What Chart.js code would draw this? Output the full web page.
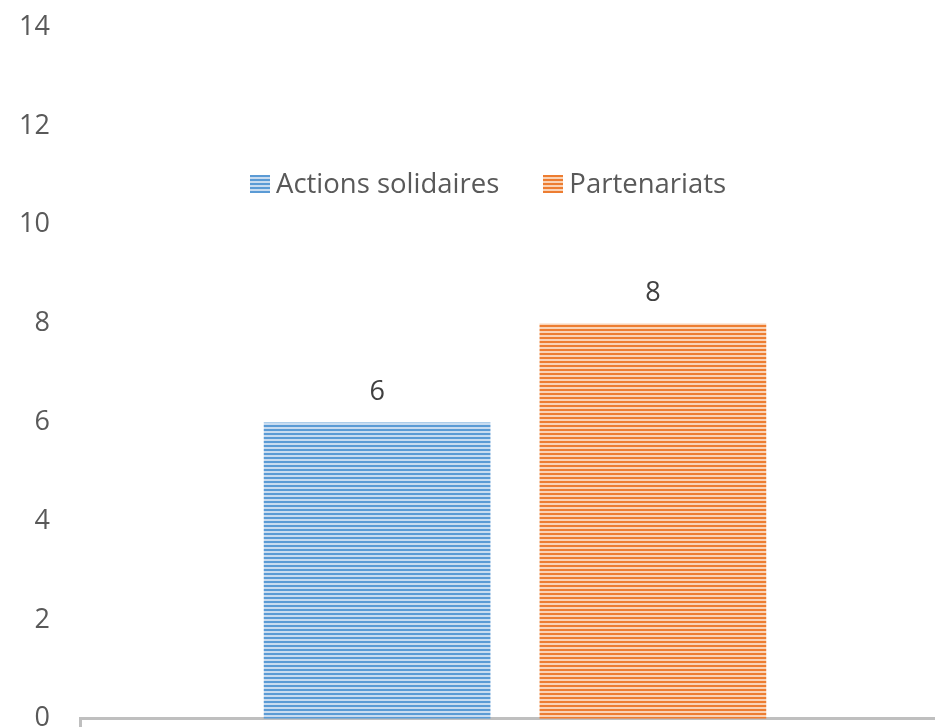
<!DOCTYPE html>
<html>
<head>
<meta charset="utf-8">
<script src="https://cdn.jsdelivr.net/npm/chart.js@4.4.1/dist/chart.umd.min.js"></script>
<style>
body { margin: 0; background: #fff; overflow: hidden; }
#wrap { position: relative; width: 935px; height: 727px; overflow: hidden; }
#box { position: absolute; left: 0; top: -11px; width: 950px; height: 768px; }
#legend { position: absolute; top: 164px; left: 250px; font-family: "Open Sans", sans-serif; font-size: 27.5px; color: #595959; white-space: nowrap; }
#legend span.item { margin-right: 44px; }
#legend i { display: inline-block; width: 20px; height: 18px; margin-right: 6px; vertical-align: 0px; }
</style>
</head>
<body>
<div id="wrap">
  <div id="box"><canvas id="myChart1"></canvas></div>
  <div id="legend"></div>
</div>
<script>
var categories = [''];
var seriesNames = ['Actions solidaires', 'Partenariats'];
var actionsSolidaires = [6];
var partenariats = [8];
var yTicks = [0, 2, 4, 6, 8, 10, 12, 14];

var colors = [['#5b9bd5', '#c9dcf0'], ['#ed7d31', '#fad3b6']];

function stripes(dark, light) {
    var c = document.createElement('canvas');
    c.width = 4; c.height = 4;
    var g = c.getContext('2d');
    g.fillStyle = light;
    g.fillRect(0, 0, 4, 4);
    g.fillStyle = dark;
    g.fillRect(0, 0, 4, 2);
    return g.createPattern(c, 'repeat');
}

// legend in the middle of the plot
var legend = document.getElementById('legend');
seriesNames.forEach(function (name, i) {
    var sw = 'repeating-linear-gradient(180deg,' + colors[i][0] + ' 0 2px,' + colors[i][1] + ' 2px 4px)';
    legend.innerHTML += '<span class="item"><i style="background:' + sw + '"></i>' + name + '</span>';
});

var valueLabels = {
    id: 'valueLabels',
    afterDatasetsDraw: function (chart) {
        var c = chart.ctx;
        c.save();
        c.font = '27px "Open Sans", sans-serif';
        c.fillStyle = '#404040';
        c.textAlign = 'center';
        c.textBaseline = 'middle';
        chart.data.datasets.forEach(function (ds, i) {
            chart.getDatasetMeta(i).data.forEach(function (bar, j) {
                c.fillText(ds.data[j], bar.x, bar.y - 30);
            });
        });
        c.restore();
    }
};

var ctx = document.getElementById('myChart1');
new Chart(ctx, {
    type: 'bar',
    data: {
        labels: categories,
        datasets: [
            {
                label: seriesNames[0],
                data: actionsSolidaires,
                backgroundColor: stripes(colors[0][0], colors[0][1]),
                borderWidth: 0
            },
            {
                label: seriesNames[1],
                data: partenariats,
                backgroundColor: stripes(colors[1][0], colors[1][1]),
                borderWidth: 0
            }
        ]
    },
    options: {
        responsive: true,
        maintainAspectRatio: false,
        animation: false,
        barPercentage: 0.822,
        categoryPercentage: 0.634,
        layout: { padding: 0 },
        plugins: {
            legend: { display: false },
            tooltip: { enabled: false }
        },
        scales: {
            x: {
                grid: { drawOnChartArea: false, drawTicks: true, tickLength: 10, color: '#bfbfbf', lineWidth: 3 },
                border: { display: true, color: '#bfbfbf', width: 3 },
                ticks: { display: false },
                afterFit: function (axis) { axis.height = 10; }
            },
            y: {
                min: 0,
                max: 14,
                afterBuildTicks: function (axis) {
                    axis.ticks = yTicks.map(function (v) { return { value: v }; });
                },
                afterFit: function (axis) { axis.width = 80; },
                grid: { display: false },
                border: { display: false },
                ticks: {
                    padding: 22,
                    color: '#595959',
                    font: { family: '"Open Sans", sans-serif', size: 27 }
                }
            }
        }
    },
    plugins: [valueLabels]
});
</script>
</body>
</html>
